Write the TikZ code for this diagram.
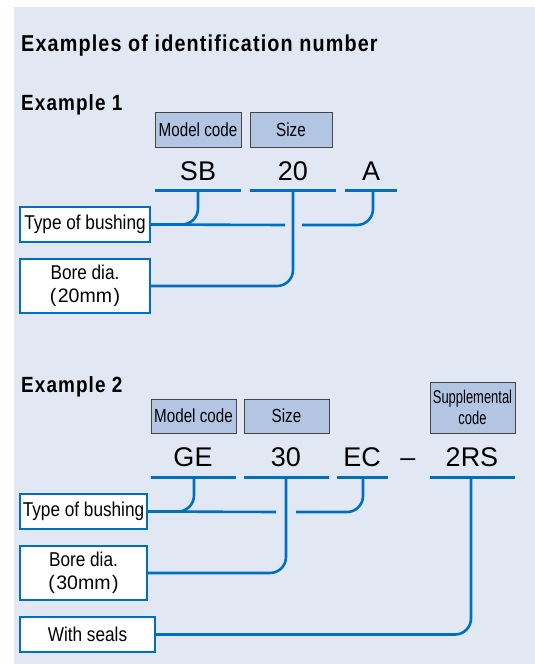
\documentclass[tikz,border=0pt]{standalone}
\usepackage{fontspec}
\setmainfont{Liberation Sans}
\newfontfamily\titlefont[FakeStretch=0.86,LetterSpace=5]{Liberation Sans Bold}
\newfontfamily\hdrfont[FakeStretch=0.8]{Liberation Sans}
\newfontfamily\supfont[FakeStretch=0.7]{Liberation Sans}
\newfontfamily\lblfont[FakeStretch=0.86]{Liberation Sans}
\definecolor{bgblue}{RGB}{225,232,244}
\definecolor{hdrfill}{RGB}{178,198,228}
\definecolor{lineblue}{RGB}{0,112,190}
\definecolor{hdrborder}{RGB}{70,70,70}
\tikzset{
  hdr/.style={draw=hdrborder,line width=0.8pt,fill=hdrfill,inner sep=0pt,font=\hdrfont\fontsize{19}{19}\selectfont,align=center},
  lbl/.style={draw=lineblue,line width=1.1pt,fill=white,inner sep=0pt,font=\lblfont\fontsize{20}{22}\selectfont,align=center},
  code/.style={anchor=base,inner sep=0pt,font=\fontsize{27}{27}\selectfont},
  uline/.style={draw=lineblue,line width=3pt},
  conn/.style={draw=lineblue,line width=2.6pt,rounded corners=16pt},
  heading/.style={anchor=base west,inner sep=0pt,font=\titlefont\fontsize{23}{23}\selectfont},
  subheading/.style={anchor=base west,inner sep=0pt,font=\titlefont\fontsize{22}{22}\selectfont},
}
\newcommand{\mmtext}[1]{{\normalfont\fontsize{19.5}{22}\selectfont(\hspace{1.5pt}#1\hspace{1.5pt})}}
\begin{document}
\begin{tikzpicture}[x=1pt,y=-1pt]
\useasboundingbox (0,0) rectangle (535,664);
\fill[bgblue] (14,7) rectangle (535,664);

\node[heading] (title) at (21,51) {Examples of identification number};
\node[subheading] (ex1) at (21,110) {Example 1};

% Example 1
\node[hdr,minimum width=86pt,minimum height=35pt] (mc1) at (198,129.5) {Model code};
\node[hdr,minimum width=82pt,minimum height=35pt] (sz1) at (291,129.5) {Size};
\node[code] (sb) at (198,180) {SB};
\node[code] (n20) at (293,180) {20};
\node[code] (a1) at (371,180) {A};
\coordinate (sbL) at (155,190); \coordinate (sbR) at (241,190); \coordinate (sbM) at (198,190);
\coordinate (twL) at (250,190); \coordinate (twR) at (336,190); \coordinate (twM) at (293,190);
\coordinate (aL) at (345,190);  \coordinate (aR) at (397,190);  \coordinate (aM) at (373,190);
\draw[uline] (sbL) -- (sbR);
\draw[uline] (twL) -- (twR);
\draw[uline] (aL) -- (aR);
\node[lbl,minimum width=130pt,minimum height=35pt] (t1) at (85,224.5) {Type of bushing};
\node[lbl,minimum width=130pt,minimum height=54pt] (b1) at (85,286) {Bore dia.\\[1pt]\mmtext{20mm}};
\coordinate (g1a) at (285,225); \coordinate (g1b) at (302,225);
\draw[conn] (sbM) |- (t1.east);
\draw[conn] (t1.east) -- (g1a);
\draw[conn] (g1b) -| (aM);
\draw[conn] (twM) |- (b1.east);

% Example 2
\node[subheading] (ex2) at (21,392) {Example 2};
\node[hdr,minimum width=85pt,minimum height=34pt] (mc2) at (193.5,416) {Model code};
\node[hdr,minimum width=85pt,minimum height=34pt] (sz2) at (286.5,416) {Size};
\node[hdr,minimum width=85pt,minimum height=51pt,font=\supfont\fontsize{18.5}{20}\selectfont] (sp2) at (472.5,407.5) {Supplemental\\[1pt]code};
\node[code] (ge) at (193,466) {GE};
\node[code] (n30) at (286,466) {30};
\node[code] (ec) at (362,466) {EC};
\node[code] (dash) at (408,466) {–};
\node[code] (rs) at (472,466) {2RS};
\coordinate (geL) at (151,477); \coordinate (geR) at (236,477); \coordinate (geM) at (194,477);
\coordinate (thL) at (244,477); \coordinate (thR) at (329,477); \coordinate (thM) at (286,477);
\coordinate (ecL) at (337,477); \coordinate (ecR) at (388,477); \coordinate (ecM) at (363,477);
\coordinate (rsL) at (430,477); \coordinate (rsR) at (515,477); \coordinate (rsM) at (471,477);
\draw[uline] (geL) -- (geR);
\draw[uline] (thL) -- (thR);
\draw[uline] (ecL) -- (ecR);
\draw[uline] (rsL) -- (rsR);
\node[lbl,minimum width=127pt,minimum height=35pt] (t2) at (83.5,511.5) {Type of bushing};
\node[lbl,minimum width=127pt,minimum height=54pt] (b2) at (83.5,573) {Bore dia.\\[1pt]\mmtext{30mm}};
\node[lbl,minimum width=135pt,minimum height=35pt] (s2) at (87.5,634.5) {With seals};
\coordinate (g2a) at (276,512); \coordinate (g2b) at (296,512);
\draw[conn] (geM) |- (t2.east);
\draw[conn] (t2.east) -- (g2a);
\draw[conn] (g2b) -| (ecM);
\draw[conn] (thM) |- (b2.east);
\draw[conn] (rsM) |- (s2.east);
\end{tikzpicture}
\end{document}
